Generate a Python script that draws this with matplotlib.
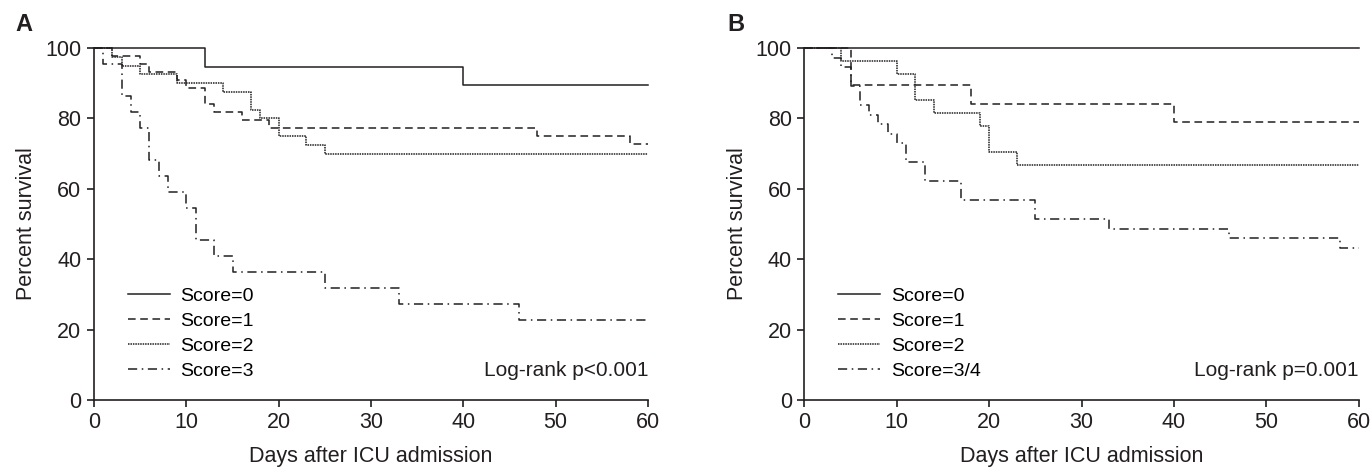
import matplotlib
matplotlib.use("Agg")
import matplotlib.pyplot as plt

plt.rcParams['font.family'] = ['Liberation Sans Narrow', 'Liberation Sans', 'DejaVu Sans']

# Panel A - step times (days) and survival (%)
a_t0 = [0, 12, 40, 60]
a_s0 = [100, 94.7, 89.5, 89.5]
a_t1 = [0, 2, 5, 6, 9, 10, 12, 13, 16, 19, 48, 58, 60]
a_s1 = [100, 97.7, 95.5, 93.2, 90.9, 88.6, 84.1, 81.8, 79.5, 77.3, 75.0, 72.7, 72.7]
a_t2 = [0, 2, 3, 5, 9, 14, 17, 18, 20, 23, 25, 60]
a_s2 = [100, 97.5, 95.0, 92.5, 90.0, 87.5, 82.5, 80.0, 75.0, 72.5, 70.0, 70.0]
a_t3 = [0, 1, 3, 4, 5, 6, 7, 8, 10, 11, 13, 15, 25, 33, 46, 60]
a_s3 = [100, 95.5, 86.4, 81.8, 77.3, 68.2, 63.6, 59.1, 54.5, 45.5, 40.9, 36.4, 31.8, 27.3, 22.7, 22.7]
a_labels = ['Score=0', 'Score=1', 'Score=2', 'Score=3']
a_text = 'Log-rank p<0.001'

# Panel B
b_t0 = [0, 60]
b_s0 = [100, 100]
b_t1 = [0, 5, 18, 40, 60]
b_s1 = [100, 89.5, 84.2, 78.9, 78.9]
b_t2 = [0, 4, 10, 12, 14, 19, 20, 23, 60]
b_s2 = [100, 96.3, 92.6, 85.2, 81.5, 77.8, 70.4, 66.7, 66.7]
b_t3 = [0, 3, 4, 5, 6, 7, 8, 9, 10, 11, 13, 17, 25, 33, 46, 58, 60]
b_s3 = [100, 97.3, 94.6, 89.2, 83.8, 81.1, 78.4, 75.7, 73.0, 67.6, 62.2, 56.8, 51.4, 48.6, 45.9, 43.2, 43.2]
b_labels = ['Score=0', 'Score=1', 'Score=2', 'Score=3/4']
b_text = 'Log-rank p=0.001'

ink = '#231f20'
styles = ['-', (0, (5, 3)), (0, (1, 0.6)), (0, (6, 3, 1, 3))]

fig = plt.figure(figsize=(13.71, 4.67), dpi=100)
W, H = 1371, 467
axA = fig.add_axes([94 / W, 1 - 400 / H, (648 - 94) / W, 352 / H])
axB = fig.add_axes([804.5 / W, 1 - 400 / H, (1358.5 - 804.5) / W, 352 / H])

def panel(ax, times, survs, labels, txt, letter):
    for t, s, ls, lab in zip(times, survs, styles, labels):
        ax.step(t, s, where='post', color=ink, lw=1.1, linestyle=ls, label=lab, clip_on=False)
    ax.set_xlim(0, 60)
    ax.set_ylim(0, 100)
    ax.set_xticks(range(0, 61, 10))
    ax.set_yticks(range(0, 101, 20))
    for sp in ['top', 'right']:
        ax.spines[sp].set_visible(False)
    for sp in ['left', 'bottom']:
        ax.spines[sp].set_linewidth(1.2)
        ax.spines[sp].set_color(ink)
    ax.tick_params(direction='out', length=5, width=1.2, color=ink, labelsize=15.5, labelcolor=ink, pad=4)
    ax.set_xlabel('Days after ICU admission', fontsize=15.5, color=ink, labelpad=9)
    ax.set_ylabel('Percent survival', fontsize=15.5, color=ink, labelpad=6)
    ax.legend(loc='lower left', bbox_to_anchor=(0.047, 0.035), frameon=False, fontsize=14,
              handlelength=2.15, handletextpad=0.55, labelspacing=0.38, borderaxespad=0)
    ax.text(1.0, 0.085, txt, transform=ax.transAxes, ha='right', va='center', fontsize=15, color=ink)
    ax.text(letter_x[letter], 1.068, letter, transform=ax.transAxes, ha='left', va='center',
            fontsize=17, fontweight='bold', color=ink)

letter_x = {'A': -0.1426, 'B': -0.14}
panel(axA, [a_t0, a_t1, a_t2, a_t3], [a_s0, a_s1, a_s2, a_s3], a_labels, a_text, 'A')
panel(axB, [b_t0, b_t1, b_t2, b_t3], [b_s0, b_s1, b_s2, b_s3], b_labels, b_text, 'B')

fig.savefig('out.png', dpi=100)
